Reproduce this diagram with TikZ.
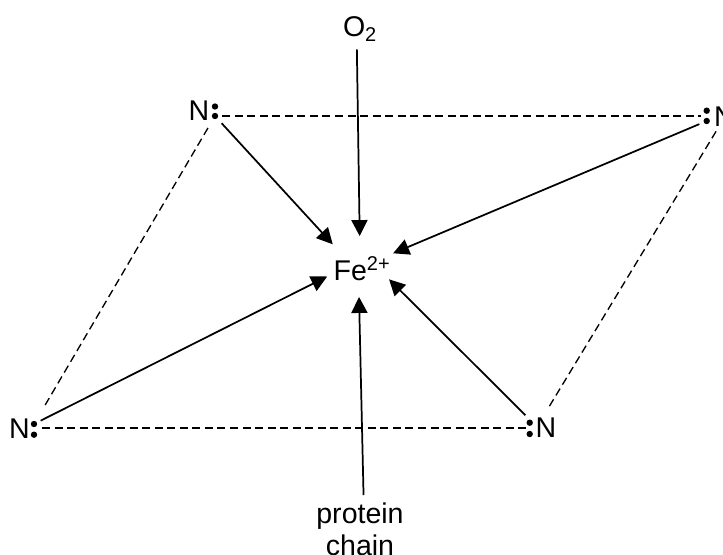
\documentclass[tikz,border=0pt]{standalone}
\usepackage{fontspec}
\setmainfont{Liberation Sans}
\usetikzlibrary{arrows.meta}
\tikzset{
  atomlabel/.style={font=\fontsize{21.4}{24}\selectfont, inner sep=0pt, outer sep=0pt},
  lonedot/.style={circle, fill=black, inner sep=0pt, outer sep=0pt, minimum size=4.8pt},
  bondarrow/.style={line width=1.3pt, -{Triangle[length=12pt,width=12pt]}},
  ringedge/.style={line width=1pt, dash pattern=on 6pt off 3.4pt},
}
\begin{document}
\begin{tikzpicture}
% one unit is one pixel of the reference, y runs downwards
\def\pxsz{0.75pt}
\begin{scope}[x=\pxsz, y=-\pxsz]
  \clip (0,0) rectangle (723,555);
  % Centre and the two axial ligands
  \node[atomlabel, circle, minimum size=49.5pt] (fe) at (362,269) {Fe\textsuperscript{2+}};
  \node[atomlabel, anchor=base] (oxygen) at (360,37) {O\textsubscript{2}};
  \node[atomlabel, align=center, anchor=north] (protein) at (360,503) {protein\\chain};
  % Nitrogen labels
  \node[atomlabel] (nNW) at (199,110.5) {N};
  \node[atomlabel] (nNE) at (724.5,117) {N};
  \node[atomlabel] (nSW) at (19.5,428.5) {N};
  \node[atomlabel] (nSE) at (546,427.5) {N};
  % Lone pairs
  \node[lonedot] (dotNWa) at (215,106.5) {};
  \node[lonedot] (dotNWb) at (215,116) {};
  \node[lonedot] (dotNEa) at (706.7,110.7) {};
  \node[lonedot] (dotNEb) at (706.7,121) {};
  \node[lonedot] (dotSWa) at (34,424) {};
  \node[lonedot] (dotSWb) at (34,434.7) {};
  \node[lonedot] (dotSEa) at (529.7,422.7) {};
  \node[lonedot] (dotSEb) at (529.7,434) {};
  \coordinate (pairNE) at (706.7,116);
  \coordinate (pairSW) at (34,428);
  \coordinate (pairSE) at (529.7,428);
  % Dashed ring
  \draw[ringedge, shorten <=3pt, shorten >=4pt] (dotNWb) -- (pairNE);
  \draw[ringedge, shorten <=6pt, shorten >=3pt] (pairSW) -- (pairSE);
  \draw[ringedge, shorten <=8pt, shorten >=12pt] (dotNWb) -- (dotSWa);
  \draw[ringedge, shorten <=4pt, shorten >=7pt] (nNE.240) -- (nSE.110);
  % Bonds to the centre
  \draw[bondarrow, shorten <=5pt, shorten >=4pt] (dotNWb) -- (fe.141.3);
  \draw[bondarrow, shorten <=3.6pt, shorten >=1.4pt] (dotNEb) -- (fe.27.3);
  \draw[bondarrow, shorten <=3.2pt, shorten >=2pt] (dotSWa) -- (fe.191.3);
  \draw[bondarrow, shorten <=4.5pt, shorten >=-3.3pt] (dotSEa.north) -- (fe.-24.8);
  \draw[bondarrow, shorten <=6pt] (oxygen.255) -- (fe.94.3);
  \draw[bondarrow, shorten <=6pt, shorten >=-3.7pt] (protein.82) -- (fe.265.9);
\end{scope}
\end{tikzpicture}
\end{document}
